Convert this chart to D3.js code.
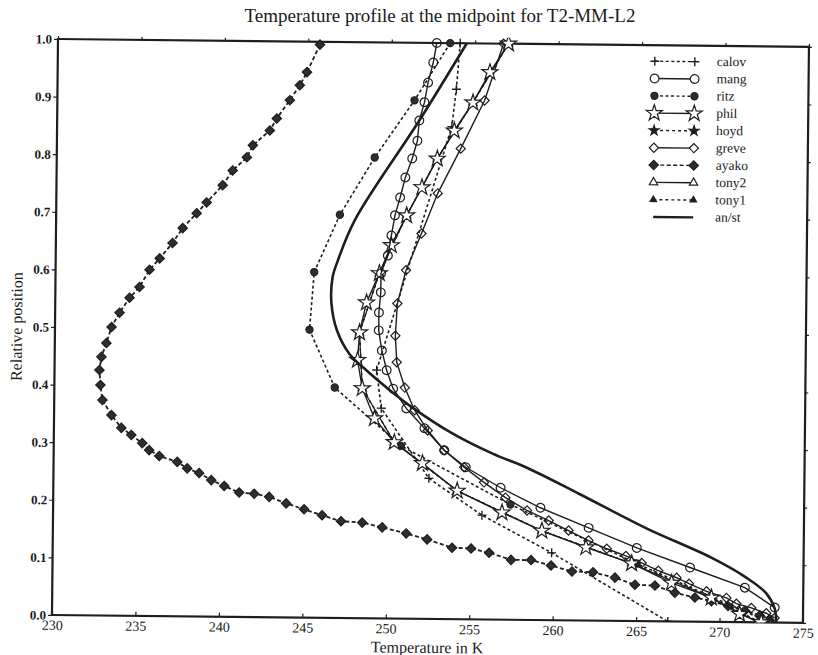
<!DOCTYPE html>
<html>
<head>
<meta charset="utf-8">
<script src="https://cdn.jsdelivr.net/npm/d3@7"></script>
<style>
  body { margin: 0; background: #fff; }
  text { font-family: "Liberation Serif", "DejaVu Serif", serif; fill: #1a1a1a; }
</style>
</head>
<body>
<div id="chart"></div>
<script>
// tick values
const xTicks = [230, 235, 240, 245, 250, 255, 260, 265, 270, 275];
const yTicks = [0.0, 0.1, 0.2, 0.3, 0.4, 0.5, 0.6, 0.7, 0.8, 0.9, 1.0];

// each series: [temperature K, relative position]
const calov = [[254.1,1.0],[253.9,0.92],[253.65,0.855],[249.3,0.431],[249.6,0.365],[252.5,0.244],[255.7,0.181],[259.9,0.117],[266.9,0.0]];
const mang = [[252.7,1.0],[252.5,0.966],[252.2,0.931],[252.0,0.897],[251.7,0.865],[251.6,0.830],[251.3,0.799],[250.9,0.766],
  [250.6,0.731],[250.3,0.700],[250.1,0.665],[249.9,0.630],[249.5,0.599],[249.5,0.566],[249.4,0.531],[249.4,0.500],[249.6,0.465],
  [249.9,0.431],[250.3,0.399],[251.1,0.365],[252.2,0.331],[253.4,0.293],[254.7,0.264],[256.8,0.229],[259.2,0.195],[262.1,0.161],
  [265.0,0.127],[268.2,0.094],[271.5,0.060],[273.3,0.026]];
const ritz = [[253.5,1.0],[251.4,0.9],[249.05,0.8],[247.0,0.7],[245.5,0.6],[245.25,0.5],[246.8,0.4],[250.8,0.3],[257.4,0.2],[265.0,0.1],[273.0,0.0]];
const phil = [[257.0,1.0],[255.9,0.95],[254.9,0.897],[253.8,0.848],[252.8,0.799],[251.9,0.749],[251.0,0.70],[250.1,0.648],
  [249.4,0.599],[248.65,0.548],[248.25,0.496],[248.15,0.448],[248.45,0.399],[249.2,0.347],[250.4,0.306],[252.1,0.270],
  [254.2,0.223],[256.9,0.186],[259.3,0.155],[261.95,0.127],[264.7,0.100],[267.1,0.067],[269.5,0.042],[271.2,0.014],[272.5,0.0]];
const hoyd = [[257.0,1.0],[254.9,0.897],[252.8,0.799],[251.0,0.70],[249.4,0.599],[248.25,0.496],[248.45,0.399],[250.4,0.306],
  [254.2,0.223],[259.3,0.155],[264.7,0.100],[269.5,0.042],[272.5,0.0]];
const greve = [[256.7,1.0],[255.6,0.901],[254.2,0.817],[252.85,0.739],[251.9,0.669],[251.0,0.605],[250.5,0.547],[250.4,0.491],
  [250.5,0.445],[251.0,0.401],[251.6,0.362],[252.4,0.327],[253.4,0.293],[254.6,0.264],[255.8,0.238],[257.1,0.212],[258.4,0.190],
  [259.7,0.173],[260.9,0.156],[262.1,0.139],[263.2,0.125],[264.35,0.113],[265.3,0.101],[266.3,0.088],[267.4,0.076],[268.15,0.066],
  [269.2,0.053],[270.4,0.042],[271.0,0.032],[271.9,0.025],[272.8,0.016],[273.3,0.008]];
const ayako = [[245.7,0.995],[244.94,0.947],[244.52,0.924],[243.93,0.898],[243.16,0.866],[242.75,0.845],[241.74,0.819],[241.39,0.798],
  [240.55,0.775],[239.96,0.749],[239.01,0.719],[238.42,0.700],[237.59,0.674],[236.99,0.648],[236.23,0.621],[235.63,0.601],
  [235.04,0.571],[234.45,0.552],[233.86,0.526],[233.39,0.501],[233.09,0.473],[232.8,0.449],[232.69,0.426],[232.76,0.400],
  [232.89,0.374],[233.44,0.348],[234.04,0.326],[234.64,0.314],[235.3,0.300],[235.72,0.288],[236.33,0.278],[237.41,0.268],
  [238.01,0.257],[238.73,0.249],[239.46,0.237],[240.24,0.227],[241.14,0.216],[242.04,0.214],[242.94,0.209],[243.96,0.198],
  [245.04,0.188],[246.12,0.178],[247.26,0.168],[248.53,0.166],[249.73,0.158],[251.17,0.148],[252.43,0.138],[253.93,0.124],
  [255.07,0.123],[256.15,0.116],[257.47,0.104],[258.67,0.104],[259.87,0.095],[261.13,0.085],[262.39,0.084],[263.71,0.075],
  [264.91,0.063],[266.11,0.062],[267.31,0.050],[268.51,0.042],[269.5,0.036],[270.5,0.028],[271.5,0.020],[272.4,0.012],[273.0,0.004]];
const tony2 = [[257.0,1.0],[254.9,0.897],[252.8,0.799],[251.0,0.70],[249.4,0.599],[248.25,0.496],[248.45,0.399],[250.4,0.306],
  [254.2,0.223],[259.3,0.155],[264.7,0.100],[269.5,0.042],[272.3,0.0]];
const tony1 = [[257.0,1.0],[254.9,0.897],[252.8,0.799],[251.0,0.70],[249.4,0.599],[248.25,0.496],[248.45,0.399],[250.4,0.306],
  [254.2,0.223],[259.3,0.155],[264.7,0.100],[269.5,0.042],[272.4,0.0]];
const anst = [[254.5,1.0],[251.7,0.865],[247.9,0.691],[246.9,0.62],[246.6,0.591],[246.55,0.546],[246.9,0.499],[247.65,0.459],
  [248.7,0.430],[249.9,0.401],[251.45,0.367],[253.9,0.322],[256.3,0.288],[258.3,0.265],[261.5,0.220],[265.5,0.162],
  [269.5,0.111],[271.6,0.077],[272.8,0.050],[273.3,0.024],[273.4,0.0]];

const ink = "#1e1e1e";
const plusPath = "M-4.5,0H4.5M0,-4.5V4.5";

// drawn in this order: filled stars/triangles sit under the open ones that share their points
const series = [
  {name: "ayako", data: ayako, dash: "4,2.5", sym: d3.symbolSquare, size: 44, rot: 45, fill: "#2e2e2e", width: 1.8},
  {name: "tony1", data: tony1, dash: "3,3", sym: d3.symbolTriangle, size: 18, fill: ink, width: 1.2},
  {name: "hoyd", data: hoyd, dash: "3,3", sym: d3.symbolStar, size: 30, fill: ink, width: 1.2},
  {name: "tony2", data: tony2, dash: null, sym: d3.symbolTriangle, size: 30, fill: "#fff", width: 1.2},
  {name: "ritz", data: ritz, dash: "3,2.5", sym: d3.symbolCircle, size: 40, fill: "#2e2e2e", width: 1.6},
  {name: "calov", data: calov, dash: "3,2.5", plus: true, width: 1.6},
  {name: "greve", data: greve, dash: null, sym: d3.symbolSquare, size: 42, rot: 45, fill: "none", width: 1.4},
  {name: "phil", data: phil, dash: null, sym: d3.symbolStar, size: 80, fill: "#fff", width: 1.4},
  {name: "mang", data: mang, dash: null, sym: d3.symbolCircle, size: 60, fill: "none", width: 1.4},
  {name: "an/st", data: anst, dash: null, width: 2.6, smooth: true}
];
const legendOrder = ["calov", "mang", "ritz", "phil", "hoyd", "greve", "ayako", "tony2", "tony1", "an/st"];

const W = 751, H = 576;
const svg = d3.select("#chart").append("svg")
    .attr("width", 818)
    .attr("height", 655);

svg.append("text")
    .attr("x", 440)
    .attr("y", 22)
    .attr("text-anchor", "middle")
    .style("font-size", "19px")
    .text("Temperature profile at the midpoint for T2-MM-L2");

// the scanned page is a little rotated
const g = svg.append("g").attr("transform", "translate(58,39) rotate(0.6)");

const x = d3.scaleLinear().domain([230, 275]).range([0, W]);
const y = d3.scaleLinear().domain([0, 1]).range([H, 0]);

g.append("clipPath").attr("id", "clip").append("rect")
    .attr("x", 0).attr("y", -6).attr("width", W).attr("height", H + 6);

const xAxis = g.append("g")
    .attr("transform", `translate(0,${H})`)
    .call(d3.axisBottom(x).tickValues(xTicks).tickSizeInner(-4).tickSizeOuter(0).tickPadding(5).tickFormat(d3.format("d")));
xAxis.selectAll("text").style("font-size", "14px").attr("font-family", null);

const yAxis = g.append("g")
    .call(d3.axisLeft(y).tickValues(yTicks).tickSizeInner(4).tickSizeOuter(0).tickPadding(2).tickFormat(d3.format(".1f")));
yAxis.selectAll("text").style("font-size", "13px").style("font-weight", "bold").attr("font-family", null);

g.append("g").call(d3.axisTop(x).tickValues(xTicks).tickSizeInner(3).tickSizeOuter(0).tickFormat(""));
g.append("g").attr("transform", `translate(${W},0)`)
    .call(d3.axisRight(y).tickValues(yTicks).tickSizeInner(3).tickSizeOuter(0).tickFormat(""));

g.selectAll(".domain").attr("stroke", "none");
g.selectAll(".tick line").attr("stroke", ink).attr("stroke-width", 1.2);

g.append("rect")
    .attr("width", W).attr("height", H)
    .attr("fill", "none")
    .attr("stroke", ink)
    .attr("stroke-width", 2.2);

const line = d3.line().x(d => x(d[0])).y(d => y(d[1]));
const smoothLine = d3.line().x(d => x(d[0])).y(d => y(d[1])).curve(d3.curveCatmullRom);

const plot = g.append("g").attr("clip-path", "url(#clip)");

series.forEach(s => {
    plot.append("path")
        .datum(s.data)
        .attr("fill", "none")
        .attr("stroke", ink)
        .attr("stroke-width", s.width)
        .attr("stroke-dasharray", s.dash)
        .attr("d", s.smooth ? smoothLine : line);
    if (s.plus) {
        plot.selectAll(null).data(s.data).enter().append("path")
            .attr("d", plusPath)
            .attr("transform", d => `translate(${x(d[0])},${y(d[1])})`)
            .attr("stroke", ink).attr("stroke-width", 1.4);
    } else if (s.sym) {
        plot.selectAll(null).data(s.data).enter().append("path")
            .attr("d", d3.symbol().type(s.sym).size(s.size))
            .attr("transform", d => `translate(${x(d[0])},${y(d[1])}) rotate(${s.rot || 0})`)
            .attr("fill", s.fill)
            .attr("stroke", ink)
            .attr("stroke-width", 1.2);
    }
});

// legend
const legend = g.append("g").attr("transform", "translate(597,16)");
legendOrder.forEach((name, i) => {
    const s = series.find(d => d.name === name);
    const row = legend.append("g").attr("transform", `translate(0,${i * 17.3})`);
    row.append("line")
        .attr("x1", 0).attr("x2", 40)
        .attr("stroke", ink)
        .attr("stroke-width", s.name === "an/st" ? 2.4 : 1.4)
        .attr("stroke-dasharray", s.dash);
    [0, 40].forEach(px => {
        if (s.plus) {
            row.append("path").attr("d", plusPath)
                .attr("transform", `translate(${px},0)`)
                .attr("stroke", ink).attr("stroke-width", 1.4);
        } else if (s.sym) {
            row.append("path")
                .attr("d", d3.symbol().type(s.sym).size(s.size))
                .attr("transform", `translate(${px},0) rotate(${s.rot || 0})`)
                .attr("fill", s.fill === "none" ? "#fff" : s.fill)
                .attr("stroke", ink).attr("stroke-width", 1.2);
        }
    });
    row.append("text")
        .attr("x", 62)
        .attr("y", 4)
        .style("font-size", "13.5px")
        .text(name);
});

g.append("text")
    .attr("x", W / 2)
    .attr("y", H + 34)
    .attr("text-anchor", "middle")
    .style("font-size", "16px")
    .text("Temperature in K");

g.append("text")
    .attr("transform", `translate(-33,${H / 2}) rotate(-90)`)
    .attr("text-anchor", "middle")
    .style("font-size", "16px")
    .text("Relative position");
</script>
</body>
</html>
